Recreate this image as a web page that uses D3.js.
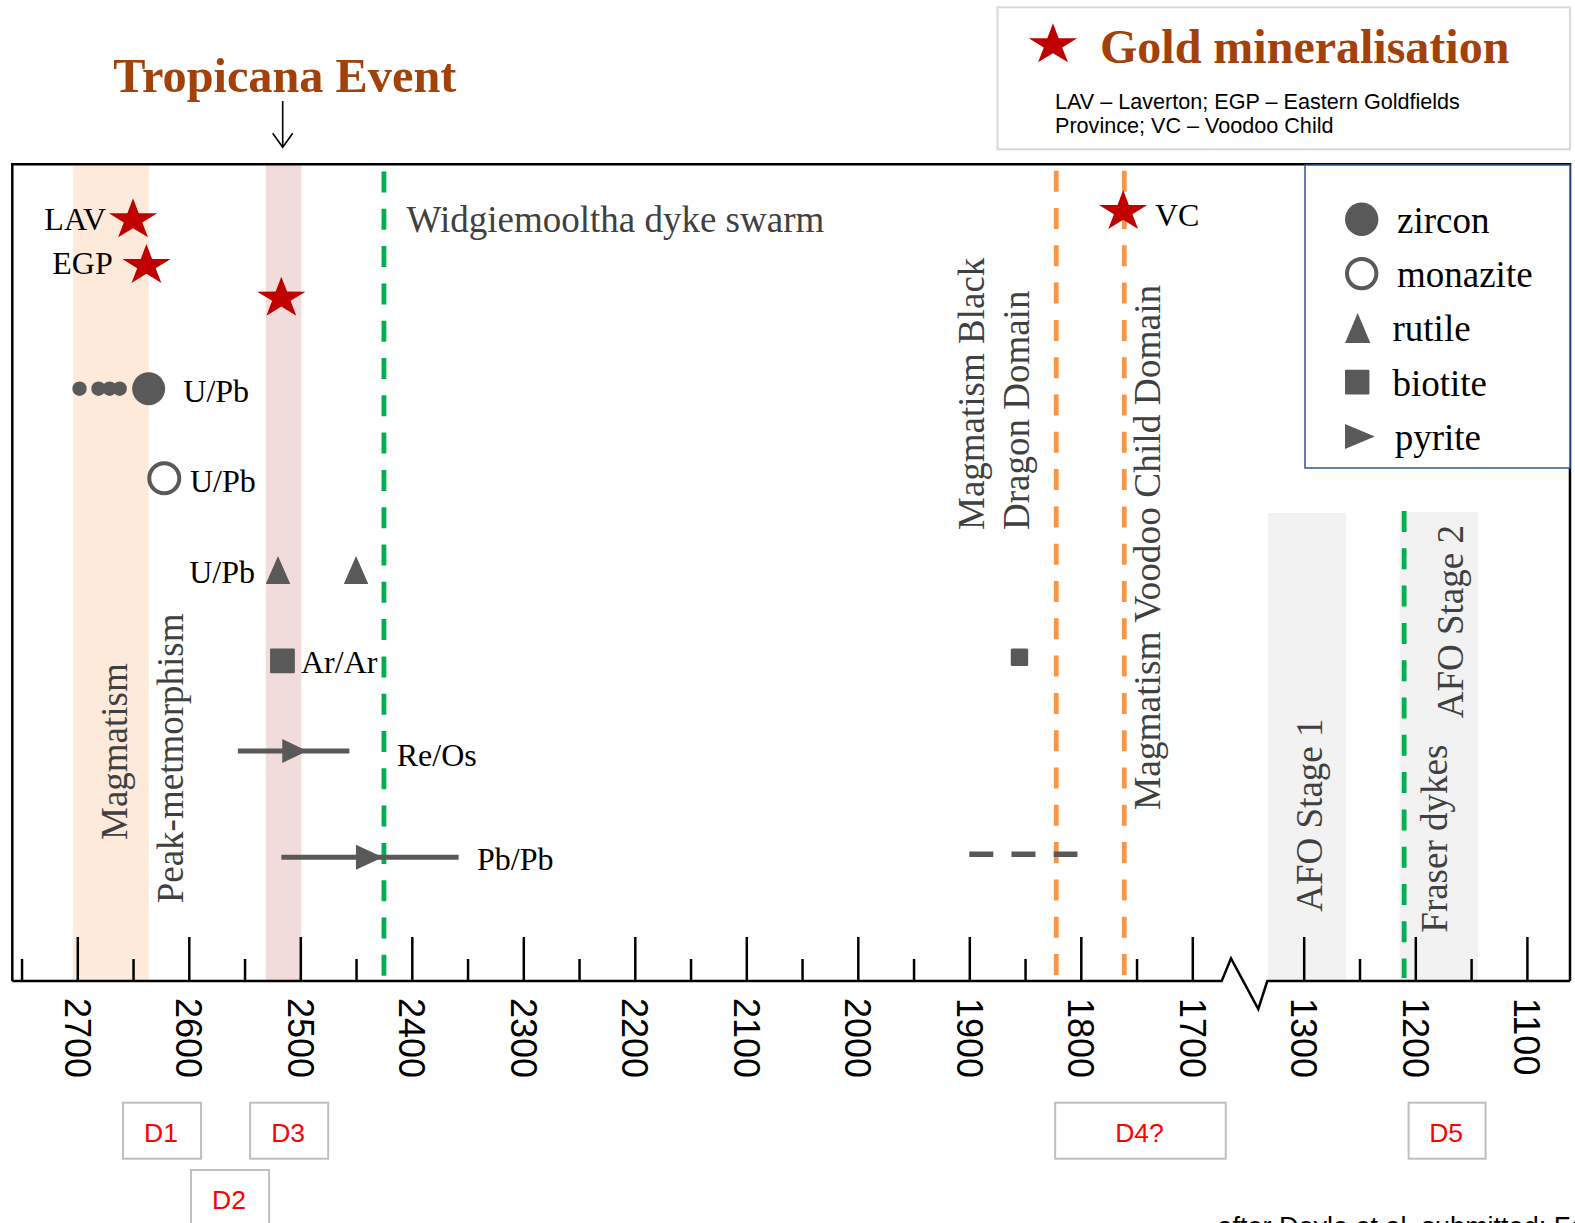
<!DOCTYPE html>
<html><head><meta charset="utf-8">
<script src="https://cdn.jsdelivr.net/npm/d3@7"></script>
<style>body{margin:0;background:#fff;} svg{display:block;}</style>
</head><body>
<svg id="chart" width="1575" height="1223"></svg>
<script>
// ---------------- DATA ----------------
const majorTicks = [2700,2600,2500,2400,2300,2200,2100,2000,1900,1800,1700,1300,1200,1100];
const minorTicks = [2750,2650,2550,2450,2350,2250,2150,2050,1950,1850,1750,1250,1150];
const tickLabels = ["2700","2600","2500","2400","2300","2200","2100","2000","1900","1800","1700","1300","1200","1100"];

const bandNames = ["Magmatism","Peak-metmorphism","AFO Stage 1","AFO Stage 2"];
const bandFrom  = [2704, 2531, 1332, 1214];
const bandTo    = [2636, 2499, 1262, 1144];

const greenLines  = [2425, 1210];   // Widgiemooltha dykes, Fraser dykes
const orangeLines = [1822, 1761];   // Black Dragon Domain, Voodoo Child Domain

const goldSites = ["LAV","EGP","Tropicana","VC"];
const goldAges  = [2650, 2638, 2517, 1762];

const zirconAges     = [2698, 2681, 2671, 2662];
const zirconMainAges = [2636];
const monaziteAges   = [2622];
const rutileAges     = [2520, 2450];
const biotiteAges    = [2516];
const biotiteBDDAges = [1855];

const pyriteMethods = ["Re/Os","Pb/Pb"];
const pyriteMin     = [2456, 2358];
const pyriteMax     = [2556, 2517];
const pyriteAge     = [2505, 2438];
const pbpbUncertainRange = [1900, 1803];

const dEvents = ["D1","D2","D3","D4?","D5"];
const dFrom   = [2659, 2598, 2545, 1823, 1206];
const dTo     = [2589, 2528, 2475, 1670, 1137];

const legendItems = ["zircon","monazite","rutile","biotite","pyrite"];

// ---------------- SCALES ----------------
const x1 = d3.scaleLinear().domain([2700,1700]).range([77.3,1192.3]);
const x2 = d3.scaleLinear().domain([1300,1200]).range([1303.7,1415.3]);
const X = v => v >= 1500 ? x1(v) : x2(v);

const rowY = d3.scaleOrdinal()
  .domain(["LAV","EGP","Tropicana","VC","zircon","monazite","rutile","biotite","biotiteBDD","Re/Os","Pb/Pb","Pb/Pb?"])
  .range([219.9,265.6,298.3,211.6,388.7,478.3,570,660.8,657.2,751,857.3,854.3]);

const legendY = d3.scalePoint().domain(legendItems).range([219.3,436.5]);

// ---------------- LAYOUT ----------------
const frame = {left:12.3, top:164.3, right:1570, axisY:981};
const markColor = "#595959";
const starColor = "#C00000";
const brown = "#a3410a";
const grayText = "#404040";
const serif = "'Liberation Serif','Times New Roman',serif";
const sans  = "'Liberation Sans',Arial,sans-serif";

const svg = d3.select("#chart");

function starPath(R, sx){
  const r = R*0.382, pts=[];
  for(let i=0;i<10;i++){
    const a=-Math.PI/2+i*Math.PI/5, rad=i%2===0?R:r;
    pts.push([Math.cos(a)*rad*sx, Math.sin(a)*rad]);
  }
  return "M"+pts.map(p=>p[0].toFixed(2)+","+p[1].toFixed(2)).join("L")+"Z";
}
const STAR = starPath(21.6, 1.176);
const triUp = (w,h)=>`M${-w/2},${h/2}L0,${-h/2}L${w/2},${h/2}Z`;
const triRight = (w,h)=>`M${-w/2},${-h/2}L${w/2},0L${-w/2},${h/2}Z`;

// bands
const bandFill = ["#fdeadb","#f2dcdb","#f2f2f2","#f2f2f2"];
const bandTop  = [frame.top, frame.top, 513, 512];
svg.append("g").selectAll("rect").data(bandNames).join("rect")
  .attr("x",(d,i)=>X(bandFrom[i]))
  .attr("width",(d,i)=>X(bandTo[i])-X(bandFrom[i]))
  .attr("y",(d,i)=>bandTop[i])
  .attr("height",(d,i)=>frame.axisY-bandTop[i])
  .attr("fill",(d,i)=>bandFill[i]);

// frame (left, top, right)
svg.append("path")
  .attr("d",`M${frame.left},${frame.axisY}L${frame.left},${frame.top}L${frame.right},${frame.top}L${frame.right},${frame.axisY}`)
  .attr("fill","none").attr("stroke","#000").attr("stroke-width",2.5);

// axes ticks
function drawAxis(scale, major, minor){
  const gMaj = svg.append("g").attr("transform",`translate(0,${frame.axisY})`)
    .call(d3.axisBottom(scale).tickValues(major).tickSize(-44).tickPadding(17)
      .tickFormat(d=>tickLabels[majorTicks.indexOf(d)]));
  gMaj.select(".domain").remove();
  gMaj.selectAll(".tick line").attr("stroke","#000").attr("stroke-width",2.5);
  gMaj.selectAll(".tick text")
    .attr("transform","rotate(90)").attr("x",17).attr("y",0).attr("dy","0.36em")
    .style("text-anchor","start").style("font-family",sans).style("font-size","36px").attr("fill","#000");
  const gMin = svg.append("g").attr("transform",`translate(0,${frame.axisY})`)
    .call(d3.axisBottom(scale).tickValues(minor).tickSize(-22).tickFormat(""));
  gMin.select(".domain").remove();
  gMin.selectAll(".tick line").attr("stroke","#000").attr("stroke-width",2.5);
}
drawAxis(x1, majorTicks.filter(v=>v>=1500), minorTicks.filter(v=>v>=1500));
drawAxis(x2, majorTicks.filter(v=>v<1500), minorTicks.filter(v=>v<1500));

// axis line with break
svg.append("path")
  .attr("d", d3.line()([[frame.left,frame.axisY],[1221.7,frame.axisY],[1231,958.3],[1258.3,1009],[1267.3,frame.axisY],[frame.right,frame.axisY]]))
  .attr("fill","none").attr("stroke","#000").attr("stroke-width",2.5).attr("stroke-linejoin","miter");

// dashed vertical lines
const vlines = [
  {v:greenLines[0], c:"#00b050", y0:171.5},
  {v:greenLines[1], c:"#00b050", y0:511},
  {v:orangeLines[0], c:"#f79646", y0:170.7},
  {v:orangeLines[1], c:"#f79646", y0:170.7}
];
svg.append("g").selectAll("line").data(vlines).join("line")
  .attr("x1",d=>X(d.v)).attr("x2",d=>X(d.v))
  .attr("y1",d=>d.y0).attr("y2",978)
  .attr("stroke",d=>d.c).attr("stroke-width",4.8).attr("stroke-dasharray","21,16.3");

// gold stars
svg.append("g").selectAll("path").data(goldSites).join("path")
  .attr("d",STAR)
  .attr("transform",(d,i)=>`translate(${X(goldAges[i])},${rowY(d)})`)
  .attr("fill",starColor);

// zircon
svg.append("g").selectAll("circle").data(zirconAges).join("circle")
  .attr("cx",d=>X(d)).attr("cy",rowY("zircon")).attr("r",7.2).attr("fill",markColor);
svg.append("g").selectAll("circle").data(zirconMainAges).join("circle")
  .attr("cx",d=>X(d)).attr("cy",rowY("zircon")).attr("r",16.5).attr("fill",markColor);
// monazite
svg.append("g").selectAll("circle").data(monaziteAges).join("circle")
  .attr("cx",d=>X(d)).attr("cy",rowY("monazite")).attr("r",15).attr("fill","none")
  .attr("stroke",markColor).attr("stroke-width",4);
// rutile
svg.append("g").selectAll("path").data(rutileAges).join("path")
  .attr("d",triUp(24.5,28)).attr("transform",d=>`translate(${X(d)},${rowY("rutile")})`).attr("fill",markColor);
// biotite
svg.append("g").selectAll("rect").data(biotiteAges).join("rect")
  .attr("x",d=>X(d)-12.4).attr("y",rowY("biotite")-12.4).attr("width",24.8).attr("height",24.8).attr("rx",1).attr("fill",markColor);
svg.append("g").selectAll("rect").data(biotiteBDDAges).join("rect")
  .attr("x",d=>X(d)-8.7).attr("y",rowY("biotiteBDD")-8.7).attr("width",17.4).attr("height",17.4).attr("rx",1.5).attr("fill",markColor);
// pyrite
svg.append("g").selectAll("line").data(pyriteMethods).join("line")
  .attr("x1",(d,i)=>X(pyriteMax[i])).attr("x2",(d,i)=>X(pyriteMin[i]))
  .attr("y1",d=>rowY(d)).attr("y2",d=>rowY(d))
  .attr("stroke",markColor).attr("stroke-width",5);
svg.append("g").selectAll("path").data(pyriteMethods).join("path")
  .attr("d",(d,i)=>i===0?triRight(25,24):triRight(27,25))
  .attr("transform",(d,i)=>`translate(${X(pyriteAge[i])},${rowY(d)})`).attr("fill",markColor);
svg.append("line")
  .attr("x1",X(pbpbUncertainRange[0])).attr("x2",X(pbpbUncertainRange[1]))
  .attr("y1",rowY("Pb/Pb?")).attr("y2",rowY("Pb/Pb?"))
  .attr("stroke",markColor).attr("stroke-width",5.5).attr("stroke-dasharray","24,18.2");

// ---------------- TEXT ----------------
function txt(s, x, y, o={}){
  const t = svg.append("text").attr("x",x).attr("y",y).text(s)
    .style("font-family",o.font||serif).style("font-size",(o.size||32)+"px")
    .attr("fill",o.fill||"#000");
  if(o.anchor) t.attr("text-anchor",o.anchor);
  if(o.weight) t.style("font-weight",o.weight);
  if(o.rot) t.attr("transform",`rotate(${o.rot},${x},${y})`);
  return t;
}
// point labels
txt("LAV",106,230,{anchor:"end"});
txt("EGP",112.7,274.3,{anchor:"end"});
txt("VC",1155,226);
txt("U/Pb",183.3,402.3);
txt("U/Pb",190,492);
txt("U/Pb",255,583.3,{anchor:"end"});
txt("Ar/Ar",301,672.7);
txt("Re/Os",396.7,766);
txt("Pb/Pb",477,870);

// annotations
txt("Widgiemooltha dyke swarm",406.5,231.7,{size:37,fill:grayText});
const rotLabels = [
  ["Magmatism",126.7,840,37],
  ["Peak-metmorphism",182.7,903.3,37],
  ["Magmatism Black",984.3,530,37],
  ["Dragon Domain",1028.7,530,37],
  ["Magmatism Voodoo Child Domain",1159.6,810,37.4],
  ["AFO Stage 1",1322.4,911.7,37],
  ["Fraser dykes",1447,932.7,37],
  ["AFO Stage 2",1463.5,718.3,37]
];
rotLabels.forEach(r=>txt(r[0],r[1],r[2],{size:r[3],fill:grayText,rot:-90}));

// Tropicana title and arrow
txt("Tropicana Event",113.3,91.7,{size:48.3,weight:"bold",fill:brown});
svg.append("path").attr("d","M282.7,101L282.7,147.3M272.7,133.3L282.7,147.3L292.7,133.3")
  .attr("fill","none").attr("stroke","#000").attr("stroke-width",1.6);

// marker legend
svg.append("rect").attr("x",1305).attr("y",165).attr("width",265).attr("height",303)
  .attr("fill","#fff").attr("stroke","#2f5597").attr("stroke-width",1.5);
const lg = svg.append("g");
lg.append("circle").attr("cx",1361.7).attr("cy",legendY("zircon")).attr("r",16.7).attr("fill",markColor);
lg.append("circle").attr("cx",1361.7).attr("cy",legendY("monazite")).attr("r",14.7).attr("fill","none").attr("stroke",markColor).attr("stroke-width",4);
lg.append("path").attr("d",triUp(25.3,30)).attr("transform",`translate(1357.7,${legendY("rutile")})`).attr("fill",markColor);
lg.append("rect").attr("x",1345).attr("y",legendY("biotite")-12.4).attr("width",24.4).attr("height",24.8).attr("rx",1).attr("fill",markColor);
lg.append("path").attr("d",triRight(29.8,25)).attr("transform",`translate(1359.9,${legendY("pyrite")})`).attr("fill",markColor);
const legendLabelX = [1397,1397,1392.5,1392.5,1394.7];
legendItems.forEach((d,i)=>txt(d,legendLabelX[i],legendY(d)+13.3,{size:37}));

// gold legend box
svg.append("rect").attr("x",997.5).attr("y",7.3).attr("width",572.5).attr("height",142)
  .attr("fill","#fff").attr("stroke","#d9d9d9").attr("stroke-width",2);
svg.append("path").attr("d",STAR).attr("transform","translate(1053,44.9)").attr("fill",starColor);
txt("Gold mineralisation",1100,63.3,{size:48,weight:"bold",fill:brown});
txt("LAV \u2013 Laverton; EGP \u2013 Eastern Goldfields",1055,109,{font:sans,size:21.6});
txt("Province; VC \u2013 Voodoo Child",1055,133.3,{font:sans,size:21.6});

// deformation boxes
const dY = [1102.7,1170,1102.7,1102.7,1102.7];
const dg = svg.append("g").selectAll("g").data(dEvents).join("g");
dg.append("rect")
  .attr("x",(d,i)=>X(dFrom[i])).attr("width",(d,i)=>X(dTo[i])-X(dFrom[i]))
  .attr("y",(d,i)=>dY[i]).attr("height",56)
  .attr("fill","#fff").attr("stroke","#bfbfbf").attr("stroke-width",2);
dg.append("text")
  .attr("x",(d,i)=>(X(dFrom[i])+X(dTo[i]))/2 - 1).attr("y",(d,i)=>dY[i]+39)
  .attr("text-anchor","middle").text(d=>d)
  .style("font-family",sans).style("font-size","26.5px").attr("fill","#ff0000");

// source note (cut by page edge, as in the original figure)
txt("after Doyle et al. submitted; Fe",1217.5,1235.5,{font:sans,size:27});
</script>
</body></html>
